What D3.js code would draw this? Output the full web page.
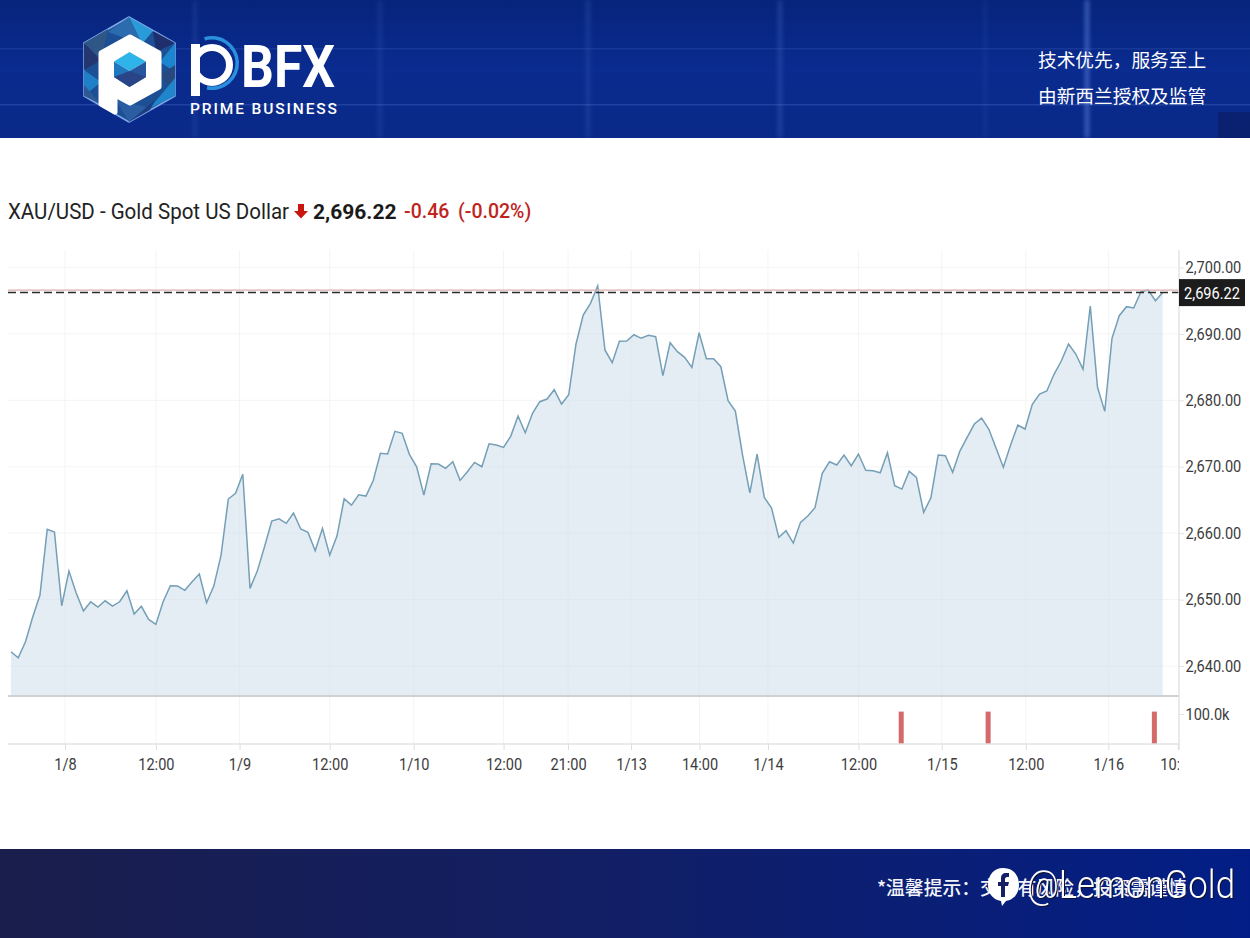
<!DOCTYPE html>
<html>
<head>
<meta charset="utf-8">
<script src="https://cdn.jsdelivr.net/npm/d3@7"></script>
<style>
  body { margin: 0; background: #fff; }
  svg { display: block; }
  text { font-family: Roboto, sans-serif; }
  .cjk { font-family: "Noto Sans CJK SC", sans-serif; }
</style>
</head>
<body>
<div id="chart"></div>
<script>
// price per bar
var prices = [
  2642.14, 2641.24, 2643.65, 2647.37, 2650.68, 2660.57, 2660.17, 2649.07, 2654.29, 2650.98,
  2648.27, 2649.67, 2648.87, 2649.82, 2649.02, 2649.67, 2651.33, 2647.82, 2648.98, 2647.02,
  2646.27, 2649.67, 2652.08, 2652.03, 2651.39, 2652.68, 2653.84, 2649.52, 2652.03, 2656.70,
  2665.14, 2666.00, 2668.86, 2651.69, 2654.29, 2657.95, 2661.82, 2662.17, 2661.48, 2663.03,
  2660.62, 2660.12, 2657.35, 2660.72, 2656.70, 2659.56, 2665.18, 2664.23, 2665.78, 2665.59,
  2667.89, 2672.02, 2671.91, 2675.33, 2675.03, 2671.87, 2670.00, 2665.74, 2670.45, 2670.41,
  2669.76, 2670.75, 2667.95, 2669.25, 2670.66, 2670.00, 2673.46, 2673.27, 2672.92, 2674.62,
  2677.64, 2675.12, 2678.04, 2679.79, 2680.20, 2681.60, 2679.44, 2680.84, 2688.48, 2692.85,
  2694.61, 2697.21, 2687.58, 2685.66, 2688.89, 2688.93, 2689.88, 2689.34, 2689.79, 2689.58,
  2683.71, 2688.67, 2687.32, 2686.48, 2684.97, 2690.18, 2686.27, 2686.27, 2685.06, 2679.94,
  2678.39, 2671.76, 2666.08, 2671.91, 2665.39, 2663.78, 2659.37, 2660.36, 2658.51, 2661.63,
  2662.58, 2663.83, 2669.01, 2670.75, 2670.26, 2671.76, 2670.15, 2671.91, 2669.46, 2669.40,
  2669.10, 2672.11, 2667.14, 2666.64, 2669.31, 2668.40, 2663.13, 2665.33, 2671.76, 2671.66,
  2669.16, 2672.36, 2674.43, 2676.43, 2677.33, 2675.63, 2672.77, 2669.91, 2673.27, 2676.28,
  2675.68, 2679.40, 2680.95, 2681.40, 2683.92, 2685.92, 2688.48, 2686.97, 2684.67, 2694.20,
  2681.96, 2678.34, 2689.34, 2692.74, 2694.10, 2693.90, 2696.36, 2696.61, 2695.00, 2696.22
];

// volume bars: bar number and size
var volumeBars = [122.9, 134.9, 157.85];
var volumeValues = [108000, 108000, 108000];

// time axis
var timeTicks = [7.46, 20, 31.55, 44, 55.6, 68, 76.9, 85.6, 95.06, 104.5, 117, 128.5, 140.1, 151.5, 161.1];
var timeLabels = ["1/8", "12:00", "1/9", "12:00", "1/10", "12:00", "21:00", "1/13", "14:00", "1/14", "12:00", "1/15", "12:00", "1/16", "10:00"];

var priceTicks = [2640, 2650, 2660, 2670, 2680, 2690, 2700];
var volumeTicks = [100000];
var lastPrice = 2696.22;
var highLine = 2696.6;

var width = 1250;
var height = 938;

var svg = d3.select("#chart").append("svg")
  .attr("width", width)
  .attr("height", height);

var defs = svg.append("defs");

// header and footer gradients
var headGrad = defs.append("linearGradient").attr("id", "headGrad").attr("x1", 0).attr("x2", 0).attr("y1", 0).attr("y2", 1);
headGrad.append("stop").attr("offset", "0").attr("stop-color", "#07247c");
headGrad.append("stop").attr("offset", "0.5").attr("stop-color", "#0a2b8f");
headGrad.append("stop").attr("offset", "1").attr("stop-color", "#0a2988");

var footGrad = defs.append("linearGradient").attr("id", "footGrad");
footGrad.append("stop").attr("offset", "0").attr("stop-color", "#1a1e4c");
footGrad.append("stop").attr("offset", "0.45").attr("stop-color", "#131f63");
footGrad.append("stop").attr("offset", "1").attr("stop-color", "#021e86");

defs.append("clipPath").attr("id", "axisClip")
  .append("rect").attr("x", 0).attr("y", 740).attr("width", 1179).attr("height", 40);

var glow = defs.append("filter").attr("id", "lineGlow")
  .attr("x", "-400%").attr("width", "900%");
glow.append("feGaussianBlur").attr("stdDeviation", 2);

drawHeader();

// scales
var x = d3.scaleLinear().domain([0, 159]).range([11, 1162.7]);
var y = d3.scaleLinear().domain([2640, 2700]).range([666, 267.5]);
var yVol = d3.scaleLinear().domain([0, 100000]).range([744, 714]);

// horizontal grid
svg.append("g")
  .selectAll("line")
  .data(priceTicks)
  .enter()
  .append("line")
  .attr("x1", 8)
  .attr("x2", 1179)
  .attr("y1", function(d) { return y(d); })
  .attr("y2", function(d) { return y(d); })
  .attr("stroke", "#f3f4f5");

// vertical grid
svg.append("g")
  .selectAll("line")
  .data(timeTicks.slice(0, -1))
  .enter()
  .append("line")
  .attr("x1", function(d) { return x(d); })
  .attr("x2", function(d) { return x(d); })
  .attr("y1", 250)
  .attr("y2", 744)
  .attr("stroke", "#f3f4f5");

// price area and line
var area = d3.area()
  .x(function(d, i) { return x(i); })
  .y0(695)
  .y1(function(d) { return y(d); });

var line = d3.line()
  .x(function(d, i) { return x(i); })
  .y(function(d) { return y(d); });

svg.append("path")
  .datum(prices)
  .attr("d", area)
  .attr("fill", "#c9dbe9")
  .attr("fill-opacity", 0.5);

svg.append("path")
  .datum(prices)
  .attr("d", line)
  .attr("fill", "none")
  .attr("stroke", "#759fb6")
  .attr("stroke-width", 1.5);

// high line and last price line
svg.append("line")
  .attr("x1", 8).attr("x2", 1179)
  .attr("y1", y(highLine)).attr("y2", y(highLine))
  .attr("stroke", "#dcaeae")
  .attr("stroke-width", 1.3);

svg.append("line")
  .attr("x1", 8).attr("x2", 1179)
  .attr("y1", y(lastPrice)).attr("y2", y(lastPrice))
  .attr("stroke", "#2a2a2a")
  .attr("stroke-width", 1.5)
  .attr("stroke-dasharray", "8,4");

// volume bars
svg.append("g")
  .selectAll("rect")
  .data(volumeBars)
  .enter()
  .append("rect")
  .attr("x", function(d) { return x(d) - 2.5; })
  .attr("y", function(d, i) { return yVol(volumeValues[i]); })
  .attr("width", 5)
  .attr("height", function(d, i) { return yVol(0) - yVol(volumeValues[i]); })
  .attr("fill", "#d56a6a");

// pane lines
svg.append("line").attr("x1", 8).attr("x2", 1179).attr("y1", 696).attr("y2", 696)
  .attr("stroke", "#cfd2d4").attr("stroke-width", 2);
svg.append("line").attr("x1", 1179).attr("x2", 1179).attr("y1", 250).attr("y2", 750)
  .attr("stroke", "#e2e3e5").attr("stroke-width", 1.5);

// the chart font in the picture is narrower than Roboto
function condense(sel, factor) {
  sel.each(function() {
    var w = this.getComputedTextLength();
    d3.select(this).attr("textLength", w * factor).attr("lengthAdjust", "spacingAndGlyphs");
  });
}

// axes
var yAxis = d3.axisRight(y)
  .tickValues(priceTicks)
  .tickSize(5)
  .tickPadding(1.5)
  .tickFormat(d3.format(",.2f"));

var volAxis = d3.axisRight(yVol)
  .tickValues(volumeTicks)
  .tickSize(5)
  .tickPadding(1.5)
  .tickFormat(function(d) { return (d / 1000).toFixed(1) + "k"; });

var xAxis = d3.axisBottom(x)
  .tickValues(timeTicks)
  .tickSize(6)
  .tickPadding(9)
  .tickFormat(function(d, i) { return timeLabels[i]; });

[svg.append("g").attr("class", "axis y").attr("transform", "translate(1179,0)").call(yAxis),
 svg.append("g").attr("class", "axis vol").attr("transform", "translate(1179,0)").call(volAxis)
].forEach(function(g) {
  g.select(".domain").remove();
  g.selectAll("line").attr("stroke", "#e2e3e5");
  g.selectAll("text").attr("font-size", 16).attr("fill", "#3c3c3c").attr("font-family", "Roboto, sans-serif").call(condense, 0.91);
});

var xG = svg.append("g")
  .attr("class", "axis x")
  .attr("clip-path", "url(#axisClip)");
var xInner = xG.append("g").attr("transform", "translate(0,744)").call(xAxis);
xInner.select(".domain").remove();
xInner.selectAll("line").attr("stroke", "#dcdde0");
xInner.selectAll("text").attr("font-size", 16).attr("fill", "#3c3c3c").attr("font-family", "Roboto, sans-serif").call(condense, 0.91);

svg.append("line").attr("x1", 8).attr("x2", 1179).attr("y1", 744).attr("y2", 744)
  .attr("stroke", "#e2e3e5").attr("stroke-width", 1.5);

// last price tag
svg.append("rect")
  .attr("x", 1179).attr("y", y(lastPrice) - 13.5)
  .attr("width", 66).attr("height", 27)
  .attr("fill", "#1c1c1c");
svg.append("text")
  .attr("x", 1212).attr("y", y(lastPrice) + 6)
  .attr("text-anchor", "middle")
  .attr("font-size", 16)
  .attr("fill", "#fff")
  .text(d3.format(",.2f")(lastPrice))
  .call(condense, 0.91);

// title row
svg.append("text")
  .attr("x", 8).attr("y", 219)
  .attr("font-size", 21.5)
  .attr("fill", "#222")
  .attr("textLength", 281)
  .attr("lengthAdjust", "spacingAndGlyphs")
  .text("XAU/USD - Gold Spot US Dollar");
svg.append("path")
  .attr("d", "M298 204h6v7h4l-7 7.5l-7-7.5h4z")
  .attr("fill", "#c8160f");
svg.append("text")
  .attr("x", 313).attr("y", 219)
  .attr("font-size", 21)
  .attr("font-weight", 700)
  .attr("fill", "#1a1a1a")
  .text("2,696.22");
svg.append("text")
  .attr("x", 404).attr("y", 218)
  .attr("font-size", 19.5)
  .attr("font-weight", 500)
  .attr("fill", "#c0251d")
  .text("-0.46");
svg.append("text")
  .attr("x", 458).attr("y", 218)
  .attr("font-size", 19.5)
  .attr("font-weight", 500)
  .attr("fill", "#c0251d")
  .text("(-0.02%)");

drawFooter();

function drawHeader() {
  svg.append("rect").attr("width", width).attr("height", 138).attr("fill", "url(#headGrad)");

  // faint light streaks of the banner
  var streaks = svg.append("g").attr("fill", "#5f86e0");
  [[195, 0.22], [380, 0.2], [588, 0.25], [780, 0.35], [985, 0.12], [1087, 0.8]].forEach(function(s) {
    streaks.append("rect").attr("x", s[0] - 1.5).attr("y", 0).attr("width", 3).attr("height", 138)
      .attr("fill-opacity", s[1]).attr("filter", "url(#lineGlow)");
  });
  [[48, 0.16], [104, 0.26]].forEach(function(s) {
    streaks.append("rect").attr("x", 0).attr("y", s[0]).attr("width", width).attr("height", 1.5)
      .attr("fill-opacity", s[1]);
  });
  svg.append("rect").attr("x", 1218).attr("y", 112).attr("width", 32).attr("height", 26)
    .attr("fill", "#0a1f6a").attr("fill-opacity", 0.8);
  svg.append("rect").attr("y", 138).attr("width", width).attr("height", 800).attr("fill", "#fff");

  // logo hexagon
  var hex = [[129, 17], [175, 43], [175, 96], [129, 122], [84, 96], [84, 43]];
  svg.append("polygon").attr("points", hex.join(" "))
    .attr("fill", "#1c4f94").attr("stroke", "#7fa8e8").attr("stroke-width", 1.5).attr("stroke-linejoin", "round");
  var facets = [
    [[129, 17], [153, 31], [142, 44], "#2a9bd9"],
    [[129, 17], [142, 44], [108, 32], "#2c6bad"],
    [[153, 31], [175, 43], [156, 52], "#1f2f6e"],
    [[175, 43], [175, 72], [160, 62], "#1b86cf"],
    [[175, 65], [175, 96], [160, 75], "#27497f"],
    [[175, 78], [175, 96], [150, 108], "#1f86cc"],
    [[108, 29], [84, 43], [101, 60], "#2e5687"],
    [[84, 43], [84, 70], [101, 60], "#24366f"],
    [[84, 70], [84, 96], [101, 82], "#1f80c8"],
    [[84, 85], [84, 96], [101, 104], "#2d5a94"],
    [[116, 100], [129, 122], [150, 108], "#2b5da3"],
    [[129, 122], [150, 110], [155, 100], "#1c3f82"]
  ];
  facets.forEach(function(f) {
    svg.append("polygon").attr("points", [f[0], f[1], f[2]].join(" ")).attr("fill", f[3]);
  });

  // white P of the logo
  svg.append("polygon")
    .attr("points", "130,37 159,53 159,87 130,103 115,95 115,112 101,104 101,53")
    .attr("fill", "#fff").attr("stroke", "#fff").attr("stroke-width", 5).attr("stroke-linejoin", "round");
  svg.append("polygon").attr("points", "129.5,52 146,61.5 129.5,71 114,61.5").attr("fill", "#2fb4ea");
  svg.append("polygon").attr("points", "114,61.5 129.5,71 129.5,87 114,77").attr("fill", "#1f78bd");
  svg.append("polygon").attr("points", "146,61.5 129.5,71 129.5,87 146,77").attr("fill", "#26579e");
  svg.append("polygon").attr("points", "114,77 129.5,71 146,77 129.5,87").attr("fill", "#2a4488");

  // wordmark
  svg.append("path")
    .attr("d", d3.arc().innerRadius(23.5).outerRadius(27).startAngle(-0.3).endAngle(Math.PI + 0.2)())
    .attr("transform", "translate(212,63)")
    .attr("fill", "#2a8fdc");
  svg.append("rect").attr("x", 191).attr("y", 44).attr("width", 9).attr("height", 52).attr("fill", "#fff");
  svg.append("circle").attr("cx", 212).attr("cy", 65).attr("r", 17.5)
    .attr("fill", "none").attr("stroke", "#fff").attr("stroke-width", 7);
  svg.append("text")
    .attr("x", 241).attr("y", 87)
    .attr("font-size", 60).attr("font-weight", 700)
    .attr("textLength", 94).attr("lengthAdjust", "spacingAndGlyphs")
    .attr("fill", "#fff")
    .text("BFX");
  svg.append("text")
    .attr("x", 190).attr("y", 114)
    .attr("font-size", 15.5).attr("font-weight", 500)
    .attr("textLength", 147)
    .attr("fill", "#fff")
    .text("PRIME BUSINESS");

  // slogan
  svg.append("text").attr("class", "cjk")
    .attr("x", 1038).attr("y", 67)
    .attr("font-size", 18.7).attr("fill", "#fff")
    .text("技术优先，服务至上");
  svg.append("text").attr("class", "cjk")
    .attr("x", 1038).attr("y", 103)
    .attr("font-size", 18.7).attr("fill", "#fff")
    .text("由新西兰授权及监管");
}

function drawFooter() {
  svg.append("rect").attr("y", 849).attr("width", width).attr("height", 89).attr("fill", "url(#footGrad)");

  svg.append("text").attr("class", "cjk")
    .attr("x", 877).attr("y", 895)
    .attr("font-size", 18.8).attr("font-weight", 500).attr("fill", "#f2f3f8")
    .text("*温馨提示：交易有风险，投资需谨慎");

  // facebook badge of the watermark
  svg.append("path")
    .attr("d", "M1003 868c10 0 16 7 16 17c0 9-6 15-13 16l-4 5l-1-5c-8-1-13-8-13-16c0-10 6-17 15-17z")
    .attr("fill", "#fff");
  svg.append("path")
    .attr("d", "M1006 873h3v4h-2c-1 0-2 1-2 2v3h4l-1 4h-3v11h-4v-11h-3v-4h3v-4c0-3 2-5 5-5z")
    .attr("fill", "#172066");

  // watermark with its dark shadow
  svg.append("text")
    .attr("x", 1027).attr("y", 898)
    .attr("font-size", 38).attr("font-weight", 300)
    .attr("textLength", 208)
    .attr("lengthAdjust", "spacingAndGlyphs")
    .attr("fill", "#fff")
    .style("filter", "drop-shadow(1px 1px 0.5px #0c1230)")
    .text("@LemonGold");
}
</script>
</body>
</html>
